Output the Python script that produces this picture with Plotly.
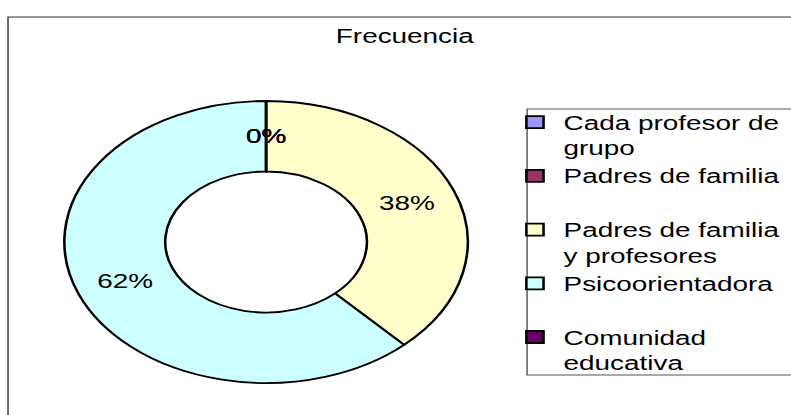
import math
import plotly.graph_objects as go

# ---- data -------------------------------------------------------------
categories = [
    "Cada profesor de grupo",
    "Padres de familia",
    "Padres de familia y profesores",
    "Psicoorientadora",
    "Comunidad educativa",
]
percentages = [0, 0, 38, 62, 0]
slice_colors = ["#9999FF", "#993366", "#FFFFCC", "#CCFFFF", "#660066"]
chart_title = "Frecuencia"

# ---- page geometry ----------------------------------------------------
# The figure is laid out at a narrower width and widened horizontally
# on the page, which gives the elliptical ring and the wide lettering.
PAGE_W, H = 791, 415
W = 553
STRETCH = PAGE_W / W

FONT = "Arial, 'Liberation Sans', sans-serif"
FONT_SIZE = 19.5

CX, CY, R = 186, 242, 141     # ring centre / outer radius (px, from top-left)
HOLE = 0.5


def wrap_label(text, width=17, lines=2):
    """Break a legend label into fixed-count lines so every entry has the same height."""
    words, out, cur = text.split(), [], ""
    for w in words:
        trial = (cur + " " + w).strip()
        if len(trial) <= width:
            cur = trial
        else:
            out.append(cur)
            cur = w
    out.append(cur)
    while len(out) < lines:
        out.append(" ")
    return "<br>".join(out)


legend_labels = [wrap_label(c) for c in categories]

fig = go.Figure(
    go.Pie(
        labels=legend_labels,
        values=percentages,
        hole=HOLE,
        sort=False,
        direction="clockwise",
        rotation=0,
        marker=dict(colors=slice_colors, line=dict(color="#000000", width=1.8)),
        textinfo="none",
        hoverinfo="label+percent",
        domain=dict(
            x=[(CX - R) / W, (CX + R) / W],
            y=[(H - CY - R) / H, (H - CY + R) / H],
        ),
    )
)

# percentage labels at the middle of the ring, along each slice's mid-angle
total = sum(percentages)
r_mid = R * (1 + HOLE) / 2
annotations = []
cum = 0
for v in percentages:
    frac_mid = (cum + v / 2) / total
    theta = 2 * math.pi * frac_mid
    px = CX + r_mid * math.sin(theta)
    py = CY - r_mid * math.cos(theta)
    annotations.append(
        dict(
            x=px / W, y=1 - py / H, xref="paper", yref="paper",
            text=f"{round(100 * v / total)}%", showarrow=False,
            xanchor="center", yanchor="middle",
            font=dict(family=FONT, size=FONT_SIZE, color="#000000"),
        )
    )
    cum += v

shapes = [
    # chart frame
    dict(type="rect", xref="paper", yref="paper",
         x0=5.6 / W, x1=1.05, y0=-0.05, y1=1 - 17 / H,
         line=dict(color="#333333", width=1), fillcolor="rgba(0,0,0,0)", layer="below"),
    # legend frame
    dict(type="rect", xref="paper", yref="paper",
         x0=368.5 / W, x1=1.05, y0=1 - 375 / H, y1=1 - 109 / H,
         line=dict(color="#555555", width=1), fillcolor="rgba(0,0,0,0)", layer="below"),
]

fig.update_layout(
    width=W, height=H, autosize=False,
    margin=dict(l=0, r=0, t=0, b=0),
    paper_bgcolor="#FFFFFF", plot_bgcolor="#FFFFFF",
    font=dict(family=FONT, size=FONT_SIZE, color="#000000"),
    title=dict(
        text=chart_title, x=283 / W, xanchor="center",
        y=1 - 36.5 / H, yanchor="middle",
        font=dict(family=FONT, size=FONT_SIZE, color="#000000"),
    ),
    showlegend=True,
    legend=dict(
        x=354 / W, xanchor="left", y=1 - 103 / H, yanchor="top",
        bgcolor="rgba(0,0,0,0)", borderwidth=0,
        font=dict(family=FONT, size=FONT_SIZE, color="#000000"),
        valign="top", traceorder="normal",
    ),
    annotations=annotations,
    shapes=shapes,
)

post = (
    "var gd=document.getElementById('{plot_id}');"
    "gd.style.transformOrigin='0 0';"
    "gd.style.transform='scaleX(" + f"{STRETCH:.5f}" + ")';"
    "document.body.style.margin='0';"
    "document.body.style.overflow='hidden';"
)

fig.write_html("out.html", config={"displayModeBar": False}, post_script=post)
